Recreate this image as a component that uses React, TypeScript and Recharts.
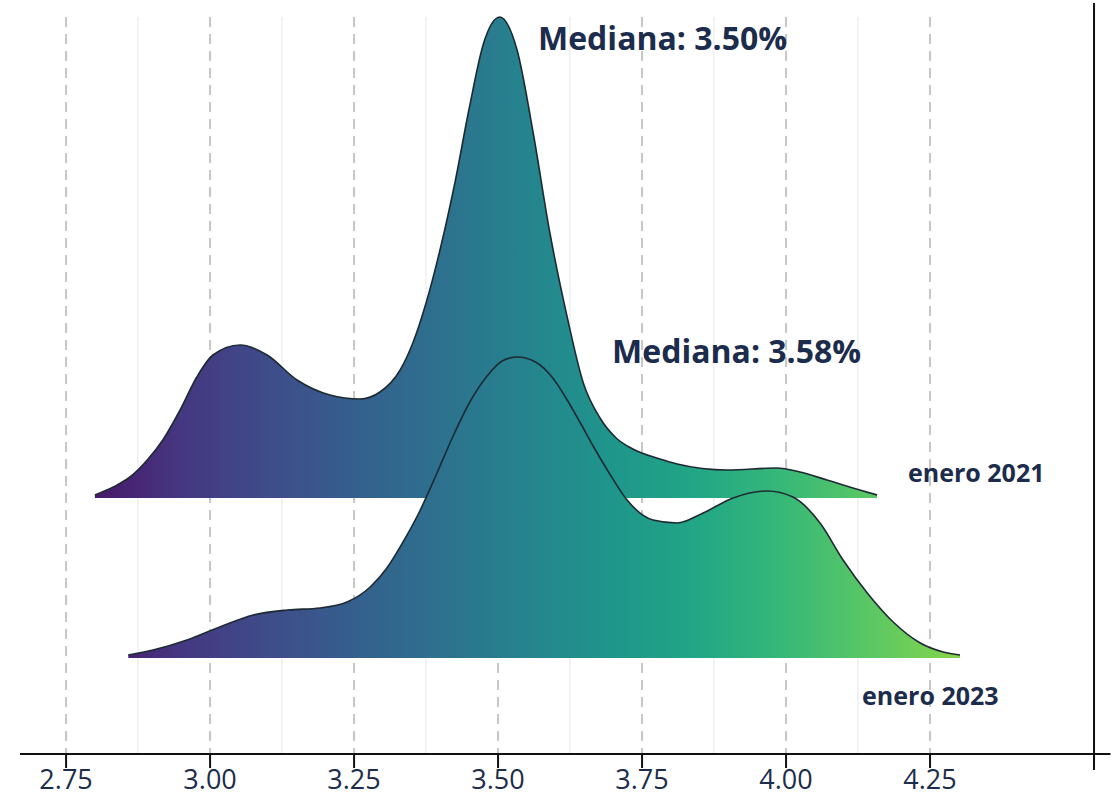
import React from 'react';
import { ComposedChart, Area, XAxis, YAxis, ReferenceLine, ReferenceDot, CartesianGrid } from 'recharts';

// ---- data ----
const xTicks = [2.75, 3.0, 3.25, 3.5, 3.75, 4.0, 4.25];
const x2021 = [2.800, 2.832, 2.861, 2.891, 2.918, 2.948, 2.977, 3.005, 3.052, 3.099, 3.151, 3.208, 3.260, 3.295, 3.330, 3.352, 3.375, 3.400, 3.425, 3.450, 3.475, 3.503, 3.533, 3.561, 3.590, 3.620, 3.648, 3.677, 3.705, 3.734, 3.781, 3.811, 3.898, 3.984, 4.024, 4.071, 4.128, 4.158];
const dens2021 = [0.03, 0.11, 0.21, 0.38, 0.58, 0.88, 1.21, 1.43, 1.53, 1.43, 1.18, 1.03, 0.99, 1.06, 1.28, 1.55, 1.95, 2.50, 3.15, 3.90, 4.55, 4.81, 4.48, 3.65, 2.65, 1.81, 1.15, 0.80, 0.60, 0.49, 0.39, 0.34, 0.28, 0.30, 0.26, 0.18, 0.08, 0.03];
const x2023 = [2.858, 2.901, 2.960, 3.017, 3.075, 3.134, 3.191, 3.238, 3.278, 3.307, 3.335, 3.365, 3.394, 3.422, 3.451, 3.481, 3.507, 3.533, 3.565, 3.595, 3.620, 3.642, 3.665, 3.694, 3.724, 3.769, 3.811, 3.856, 3.908, 3.967, 4.012, 4.059, 4.099, 4.141, 4.186, 4.233, 4.273, 4.302];
const dens2023 = [0.03, 0.08, 0.18, 0.31, 0.43, 0.48, 0.50, 0.56, 0.71, 0.90, 1.16, 1.48, 1.85, 2.22, 2.56, 2.82, 2.97, 3.01, 2.96, 2.80, 2.58, 2.36, 2.12, 1.84, 1.58, 1.38, 1.35, 1.45, 1.60, 1.67, 1.61, 1.35, 0.98, 0.65, 0.36, 0.15, 0.06, 0.03];
const seriesNames = ['enero 2021', 'enero 2023'];
const seriesOffsets = [2.56, 0.96];
const medianLabels = ['Mediana: 3.50%', 'Mediana: 3.58%'];

// ---- layout ----
const W = 1115;
const H = 798;
const X_DOMAIN: [number, number] = [2.67, 4.5633];
const Y_DOMAIN: [number, number] = [0, 7.37];
const MARGIN = { top: 17, right: 4.5, left: 20, bottom: 0 };
const PLOT_W = W - MARGIN.left - MARGIN.right;
const px = (v: number) => MARGIN.left + ((v - X_DOMAIN[0]) / (X_DOMAIN[1] - X_DOMAIN[0])) * PLOT_W;
const RIGHT_LINE_X = 4.5347;

const rows2021 = x2021.map((x, i) => ({ x, y: seriesOffsets[0] + dens2021[i] }));
const rows2023 = x2023.map((x, i) => ({ x, y: seriesOffsets[1] + dens2023[i] }));

const NAVY = '#1c2c4c';
const FONT = '"Open Sans", "Noto Sans", sans-serif';

const viridisStops = [
  '#48186a', '#453781', '#3e4c8a', '#355f8d', '#2d718e', '#25848e',
  '#1f968b', '#22a785', '#38b977', '#5cc863', '#86d549',
];

const minorTicks = xTicks.slice(0, -1).map((t) => t + 0.125);

const gridGen = (vals: number[]) => (props: any) => {
  const s = props?.xAxis?.scale;
  return vals.map((t) => (typeof s === 'function' ? s(t) : px(t)));
};

const makeLabel = (text: string, size: number) => (props: any) => {
  const vb = props.viewBox || {};
  const x = (vb.x ?? 0) + (vb.width ?? 0) / 2;
  const y = (vb.y ?? 0) + (vb.height ?? 0) / 2;
  return (
    <text x={x} y={y} textAnchor="start" fill={NAVY} fontSize={size} fontWeight={700} fontFamily={FONT}>
      {text}
    </text>
  );
};

export default function App() {
  return (
    <div style={{ position: 'absolute', left: 0, top: 0, width: W, height: H, background: '#fff' }}>
      <ComposedChart width={W} height={H} margin={MARGIN}>
        <defs>
          <linearGradient id="viridis" gradientUnits="userSpaceOnUse" x1={px(2.8)} y1={0} x2={px(4.302)} y2={0}>
            {viridisStops.map((c, i) => (
              <stop key={i} offset={i / (viridisStops.length - 1)} stopColor={c} />
            ))}
          </linearGradient>
        </defs>
        <CartesianGrid horizontal={false} stroke="#f3f3f3" strokeWidth={2} verticalCoordinatesGenerator={gridGen(minorTicks)} />
        <CartesianGrid horizontal={false} stroke="#c6c6c6" strokeWidth={2} strokeDasharray="10 7" verticalCoordinatesGenerator={gridGen(xTicks)} />
        <XAxis
          dataKey="x"
          type="number"
          domain={X_DOMAIN}
          allowDataOverflow
          ticks={[...xTicks, RIGHT_LINE_X]}
          tickFormatter={(v: number) => (v > 4.4 ? '' : v.toFixed(2))}
          height={44}
          tickSize={14}
          axisLine={{ stroke: '#111', strokeWidth: 2 }}
          tickLine={{ stroke: '#111', strokeWidth: 2 }}
          tick={{ fill: NAVY, fontSize: 27, fontFamily: FONT }}
        />
        <YAxis type="number" domain={Y_DOMAIN} hide />
        <Area
          data={rows2021}
          dataKey="y"
          name={seriesNames[0]}
          type="monotone"
          baseValue={seriesOffsets[0]}
          fill="url(#viridis)"
          fillOpacity={1}
          stroke="#1d2a33"
          strokeWidth={1.6}
          isAnimationActive={false}
          dot={false}
          activeDot={false}
        />
        <Area
          data={rows2023}
          dataKey="y"
          name={seriesNames[1]}
          type="monotone"
          baseValue={seriesOffsets[1]}
          fill="url(#viridis)"
          fillOpacity={1}
          stroke="#1d2a33"
          strokeWidth={1.6}
          isAnimationActive={false}
          dot={false}
          activeDot={false}
        />
        <ReferenceLine
          segment={[{ x: RIGHT_LINE_X, y: 7.51 }, { x: RIGHT_LINE_X, y: -0.16 }]}
          stroke="#111"
          strokeWidth={2}
          ifOverflow="visible"
        />
        <ReferenceDot x={3.5694} y={7.04} r={1} fill="none" stroke="none" ifOverflow="visible" label={makeLabel(medianLabels[0], 32)} />
        <ReferenceDot x={3.698} y={3.91} r={1} fill="none" stroke="none" ifOverflow="visible" label={makeLabel(medianLabels[1], 32)} />
        <ReferenceDot x={4.2118} y={2.72} r={1} fill="none" stroke="none" ifOverflow="visible" label={makeLabel(seriesNames[0], 25)} />
        <ReferenceDot x={4.132} y={0.49} r={1} fill="none" stroke="none" ifOverflow="visible" label={makeLabel(seriesNames[1], 25)} />
      </ComposedChart>
    </div>
  );
}
